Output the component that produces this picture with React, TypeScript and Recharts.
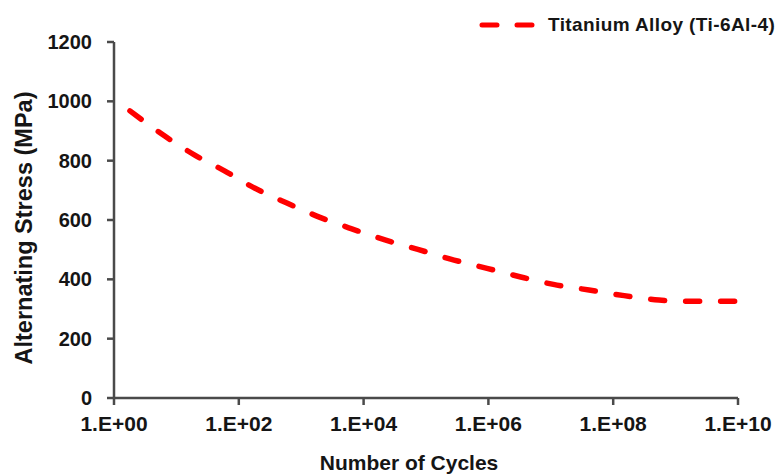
import React from 'react';
import { LineChart, Line, XAxis, YAxis, Legend, Label } from 'recharts';

const cycles = [1.8, 6.6, 20, 60, 182, 590, 2000, 6300, 22000, 74000, 240000, 950000, 3.3e6, 1.1e7, 4.1e7, 1.5e8, 5.4e8, 1.95e9, 1e10];
const stress = [968, 882, 818, 765, 707, 657, 609, 571, 533, 501, 469, 437, 408, 383, 364, 345, 330, 326, 326];
const xTicks = [1, 1e2, 1e4, 1e6, 1e8, 1e10];
const xTickLabels = ['1.E+00', '1.E+02', '1.E+04', '1.E+06', '1.E+08', '1.E+10'];
const yTicks = [0, 200, 400, 600, 800, 1000, 1200];
const seriesName = 'Titanium Alloy (Ti-6Al-4)';

const data = cycles.map((c, i) => ({ cycles: c, stress: stress[i] }));

const FONT = '"Liberation Sans", Arial, sans-serif';
const AXIS_COLOR = '#4a4a4a';
const TEXT_COLOR = '#151515';
const RED = '#ff0000';

const LegendContent = () => (
  <div style={{ display: 'flex', alignItems: 'center', fontFamily: FONT, fontWeight: 700, fontSize: 19, color: TEXT_COLOR, whiteSpace: 'nowrap' }}>
    <svg width={64} height={10} style={{ marginRight: 6 }}>
      <line x1={4} y1={5} x2={59} y2={5} stroke={RED} strokeWidth={5} strokeLinecap="round" strokeDasharray="15 20" />
    </svg>
    <span style={{ letterSpacing: 0.4 }}>{seriesName}</span>
  </div>
);

export default function App() {
  return (
    <div style={{ position: 'absolute', left: 0, top: 0, width: 777, height: 474, background: '#fff' }}>
      <LineChart width={777} height={474} data={data} margin={{ top: 20, right: 39, bottom: 0, left: 0 }}>
        <XAxis
          dataKey="cycles"
          type="number"
          scale="log"
          domain={[1, 1e10]}
          ticks={xTicks}
          allowDataOverflow
          height={76}
          tickFormatter={(v: number) => xTickLabels[xTicks.indexOf(v)] ?? ''}
          stroke={AXIS_COLOR}
          strokeWidth={2.5}
          tickSize={7}
          tickMargin={11}
          tick={{ fill: TEXT_COLOR, fontFamily: FONT, fontWeight: 700, fontSize: 21 }}
          interval={0}
        >
          <Label
            content={(props: any) => {
              const vb = props.viewBox;
              return (
                <text x={vb.x + vb.width / 2 - 17} y={470} textAnchor="middle" fontFamily={FONT} fontWeight={700} fontSize={21} fill={TEXT_COLOR}>
                  Number of Cycles
                </text>
              );
            }}
          />
        </XAxis>
        <YAxis
          type="number"
          domain={[0, 1200]}
          ticks={yTicks}
          width={114}
          stroke={AXIS_COLOR}
          strokeWidth={2.5}
          tickSize={7}
          tickMargin={15}
          tick={{ fill: TEXT_COLOR, fontFamily: FONT, fontWeight: 700, fontSize: 20 }}
          interval={0}
        >
          <Label
            content={(props: any) => {
              const vb = props.viewBox;
              const cy = vb.y + vb.height / 2 + 8;
              return (
                <text x={32} y={cy} transform={`rotate(-90 32 ${cy})`} textAnchor="middle" fontFamily={FONT} fontWeight={700} fontSize={23.5} fill={TEXT_COLOR}>
                  Alternating Stress (MPa)
                </text>
              );
            }}
          />
        </YAxis>
        <Legend
          verticalAlign="top"
          align="right"
          content={() => <LegendContent />}
          wrapperStyle={{ position: 'absolute', top: 14, left: 478, width: 299 }}
        />
        <Line
          type="monotone"
          dataKey="stress"
          name={seriesName}
          stroke={RED}
          strokeWidth={5.5}
          strokeLinecap="round"
          strokeDasharray="14 21"
          dot={false}
          activeDot={false}
          isAnimationActive={false}
        />
      </LineChart>
    </div>
  );
}
